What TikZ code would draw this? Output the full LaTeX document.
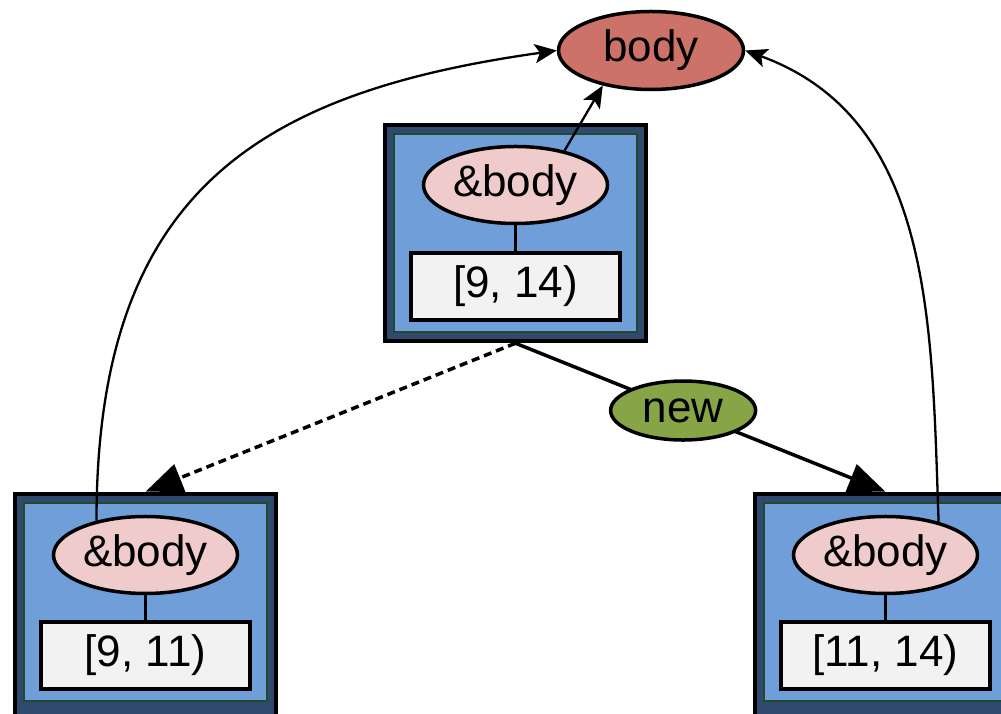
\documentclass[tikz,border=0pt]{standalone}
\usepackage{fontspec}
\setmainfont{Liberation Sans}
\usetikzlibrary{arrows.meta,shapes.geometric}

\definecolor{boxdark}{HTML}{2F4A6C}
\definecolor{boxlight}{HTML}{6F9ED9}
\definecolor{boxrim}{HTML}{1F4A2C}
\definecolor{refpink}{HTML}{EFCCCB}
\definecolor{spanfill}{HTML}{F2F2F2}
\definecolor{bodyred}{HTML}{CD7269}
\definecolor{newgreen}{HTML}{87A547}

\begin{document}
\begin{tikzpicture}[x=1pt,y=1pt,
  every node/.style={inner sep=0pt, font=\fontsize{44}{50}\selectfont},
  frame/.style={rectangle, draw=black, line width=4.5pt, fill=boxdark,
                minimum width=261pt, minimum height=216pt},
  lowframe/.style={frame, minimum height=222pt},
  panel/.style={rectangle, draw=boxrim, line width=2pt, fill=boxlight,
                minimum width=243pt, minimum height=198pt},
  refnode/.style={ellipse, draw=black, line width=3.5pt, fill=refpink,
                  minimum width=184pt, minimum height=77pt},
  span/.style={rectangle, draw=black, line width=4pt, fill=spanfill,
               minimum width=209pt, minimum height=67pt},
  target/.style={ellipse, draw=black, line width=3.5pt, fill=bodyred,
                 minimum width=185pt, minimum height=78pt},
  tag/.style={ellipse, draw=black, line width=3.5pt, fill=newgreen,
              minimum width=145pt, minimum height=59pt},
  link/.style={line width=3.5pt},
  bigtip/.style={-{Triangle[length=37pt,width=29pt]}},
  ptr/.style={line width=2.3pt, -{Stealth[length=22pt,width=19pt,inset=5pt]}}
]
\useasboundingbox (0,0) rectangle (1001,714);
\clip (0,0) rectangle (1001,714);

% pointee
\node[target] (body) at (651,663.5) {body};

% original slice [9, 14)
\node[frame] (tb) at (515.5,481) {};
\node[panel] (tbp) at (515.5,481) {};
\node[refnode] (te) at (515.5,529) {\&body};
\node[span] (ts) at (515.5,427.5) {[9, 14)};
\draw[link] (te.south) -- (ts.north);

% left slice [9, 11)
\node[lowframe] (lb) at (145.5,109) {};
\node[panel] (lbp) at (145.5,112) {};
\node[refnode] (le) at (145.5,159) {\&body};
\node[span] (ls) at (145.5,58.5) {[9, 11)};
\draw[link] (le.south) -- (ls.north);

% right slice [11, 14)
\node[lowframe] (rb) at (885.5,109) {};
\node[panel] (rbp) at (885.5,112) {};
\node[refnode] (re) at (885.5,159) {\&body};
\node[span] (rs) at (885.5,58.5) {[11, 14)};
\draw[link] (re.south) -- (rs.north);

% references to the shared body
\draw[ptr] (te.35) -- (body.216);
\draw[ptr] (le.145) .. controls +(90:330) and +(188:300) .. (body.west);
\draw[ptr] (re.32) .. controls +(92:200) and +(-20:200) .. (body.east);

% split edges
\draw[link, dash pattern=on 8pt off 5pt, bigtip] (tb.south) -- (lb.north);
\draw[link, bigtip] (tb.south) -- node[tag, pos=0.453] (new) {new} (rb.north);
\end{tikzpicture}
\end{document}
